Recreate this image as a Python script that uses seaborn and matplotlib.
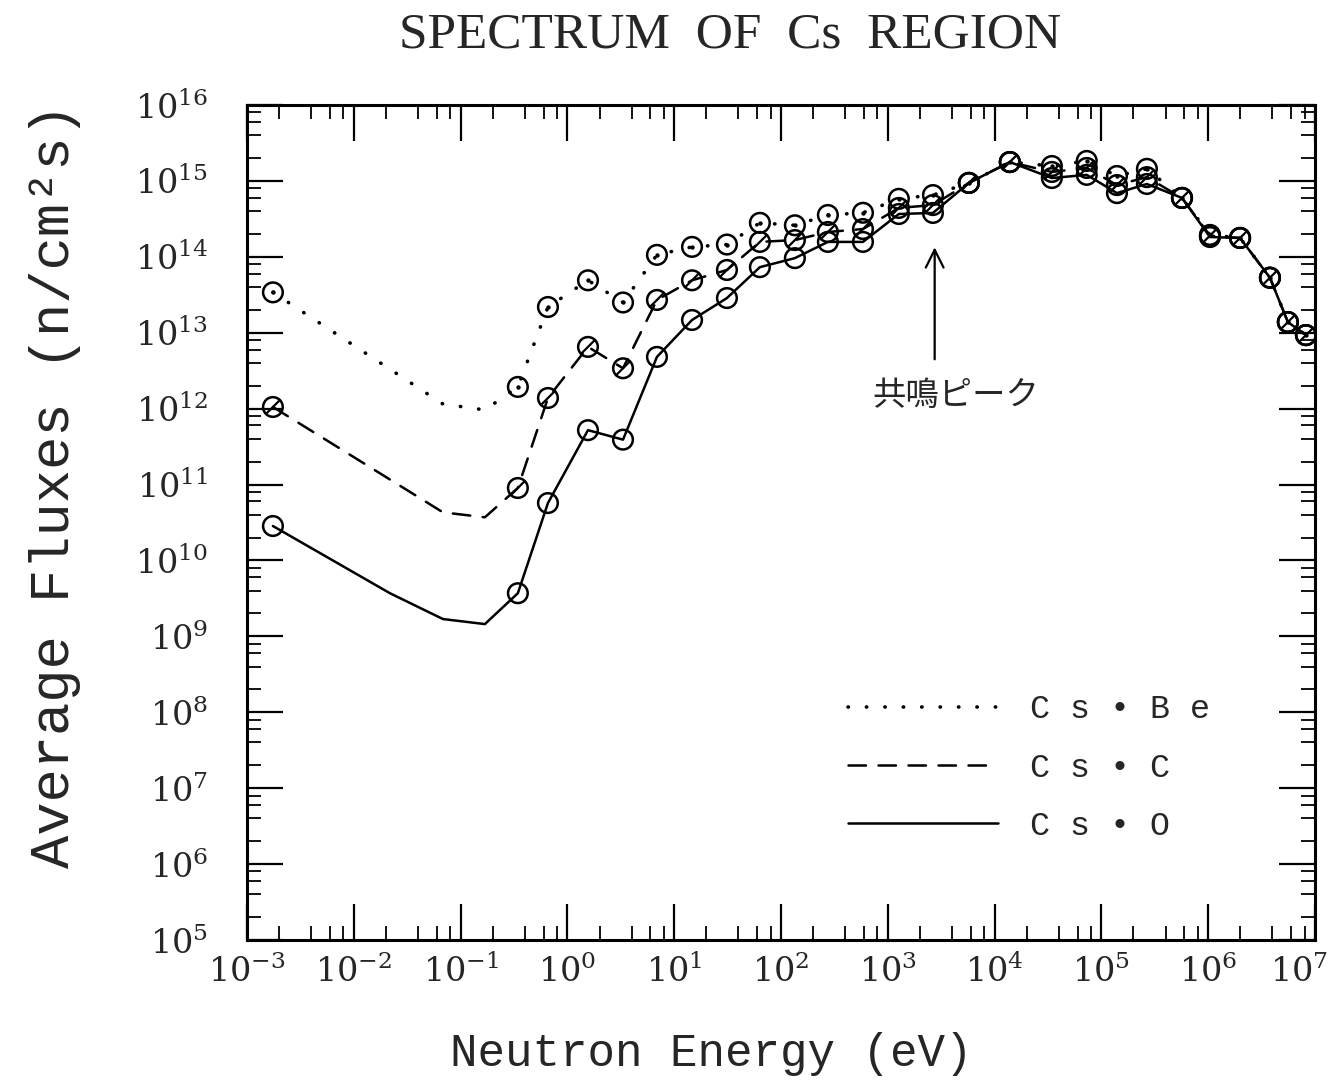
import numpy as np
import pandas as pd
import matplotlib
matplotlib.use("Agg")
import matplotlib.pyplot as plt
import matplotlib.ticker as mticker
import matplotlib.transforms as mtransforms
from matplotlib.path import Path
from matplotlib.lines import Line2D
import seaborn as sns

# ---------------- data ----------------
# energies (eV) where markers are drawn
energy_pts = [1.75e-3, 0.344, 0.658, 1.56, 3.32, 6.9, 14.7, 31.2, 63.5, 135, 275, 586,
              1270, 2650, 5750, 1.39e4, 3.44e4, 7.3e4, 1.40e5, 2.67e5, 5.69e5,
              1.04e6, 1.99e6, 3.79e6, 5.58e6, 8.24e6]

flux_be = [3.4e13, 1.93e12, 2.18e13, 4.9e13, 2.5e13, 1.06e14, 1.35e14, 1.45e14, 2.8e14,
           2.6e14, 3.55e14, 3.8e14, 5.8e14, 6.5e14, 9.4e14, 1.77e15, 1.57e15, 1.83e15,
           1.16e15, 1.44e15, 5.96e14, 1.94e14, 1.77e14, 5.3e13, 1.38e13, 9.3e12]
flux_c = [1.05e12, 9.0e10, 1.38e12, 6.5e12, 3.4e12, 2.7e13, 4.9e13, 6.7e13, 1.57e14,
          1.66e14, 2.12e14, 2.32e14, 4.4e14, 4.8e14, 9.4e14, 1.77e15, 1.31e15, 1.48e15,
          8.8e14, 1.12e15, 5.96e14, 1.9e14, 1.77e14, 5.3e13, 1.38e13, 9.3e12]
flux_o = [2.84e10, 3.7e9, 5.7e10, 5.2e11, 3.9e11, 4.8e12, 1.47e13, 2.86e13, 7.3e13,
          9.6e13, 1.57e14, 1.57e14, 3.66e14, 3.78e14, 9.4e14, 1.77e15, 1.09e15, 1.2e15,
          6.9e14, 9.1e14, 5.96e14, 1.82e14, 1.77e14, 5.3e13, 1.38e13, 9.3e12]

# additional curve nodes in the thermal region (no markers)
thermal_e_be = [0.0684, 0.169]
thermal_f_be = [1.15e12, 9.6e11]
thermal_e_c = [0.0684, 0.169]
thermal_f_c = [4.3e10, 3.7e10]
thermal_e_o = [0.0218, 0.0684, 0.169]
thermal_f_o = [3.7e9, 1.69e9, 1.45e9]

x_ticks = [1e-3, 1e-2, 1e-1, 1e0, 1e1, 1e2, 1e3, 1e4, 1e5, 1e6, 1e7]
y_ticks = [1e5, 1e6, 1e7, 1e8, 1e9, 1e10, 1e11, 1e12, 1e13, 1e14, 1e15, 1e16]

labels = ["C s • B e", "C s • C", "C s • O"]
title = "SPECTRUM  OF  Cs  REGION"
xlabel = "Neutron Energy (eV)"
ylabel = "Average Fluxes (n/cm²s)"
annot_text = "共鳴ピーク"
annot_x = 2750
annot_tip, annot_tail = 1.45e14, 4.1e12
annot_text_x, annot_text_y = 4300, 1.5e12


def curve(e_th, f_th, fl):
    e = [energy_pts[0]] + e_th + energy_pts[1:]
    f = [fl[0]] + f_th + fl[1:]
    return pd.DataFrame({"E": e, "F": f})


# ---------------- style ----------------
sns.set_style("ticks")
plt.rcParams["font.family"] = ["DejaVu Serif"]
plt.rcParams["mathtext.fontset"] = "dejavuserif"

fig = plt.figure(figsize=(13.4, 10.91), dpi=100)
ax = fig.add_axes([0.1843, 0.1384, 0.7970, 0.7654])

styles = [(0, (0.1, 5.0)), (0, (7, 5)), "-"]
widths = [2.6, 1.8, 1.8]
series = [(thermal_e_be, thermal_f_be, flux_be),
          (thermal_e_c, thermal_f_c, flux_c),
          (thermal_e_o, thermal_f_o, flux_o)]

for (e_th, f_th, fl), ls, lw in zip(series, styles, widths):
    df = curve(e_th, f_th, fl)
    sns.lineplot(data=df, x="E", y="F", ax=ax, color="black", sort=False,
                 estimator=None, linewidth=lw, legend=False)
    line = ax.lines[-1]
    line.set_linestyle(ls)
    line.set_dash_capstyle("round")

# markers
msize = 200
slash = Path([(-0.75, -0.75), (0.75, 0.75)], [Path.MOVETO, Path.LINETO])
pts = pd.DataFrame({"E": energy_pts, "Be": flux_be, "C": flux_c, "O": flux_o})
for col in ["Be", "C", "O"]:
    sns.scatterplot(data=pts, x="E", y=col, ax=ax, marker="o", s=msize,
                    facecolor="none", edgecolor="black", linewidth=1.8,
                    legend=False, zorder=4)
sns.scatterplot(data=pts, x="E", y="Be", ax=ax, marker="o", s=10,
                color="black", linewidth=0, legend=False, zorder=5)
sns.scatterplot(data=pts, x="E", y="C", ax=ax, marker=slash, s=120,
                facecolor="none", edgecolor="black", linewidth=1.6,
                legend=False, zorder=5)

ax.set_xscale("log")
ax.set_yscale("log")
ax.set_xlabel("")
ax.set_ylabel("")

ax.xaxis.set_major_locator(mticker.FixedLocator(x_ticks))
ax.yaxis.set_major_locator(mticker.FixedLocator(y_ticks))
ax.xaxis.set_minor_locator(mticker.LogLocator(base=10, subs=[2, 4, 6, 8], numticks=20))
ax.yaxis.set_minor_locator(mticker.LogLocator(base=10, subs=[2, 4, 6, 8], numticks=20))
ax.xaxis.set_minor_formatter(mticker.NullFormatter())
ax.yaxis.set_minor_formatter(mticker.NullFormatter())
ax.xaxis.set_major_formatter(mticker.LogFormatterMathtext())
ax.yaxis.set_major_formatter(mticker.LogFormatterMathtext())
ax.set_xlim(1e-3, 1e7)
ax.set_ylim(1e5, 1e16)

ax.tick_params(which="both", direction="in", top=True, right=True, color="black")
ax.tick_params(which="major", length=26, width=1.6, labelsize=24)
ax.tick_params(axis="x", which="major", pad=11)
ax.tick_params(axis="y", which="major", pad=28)
ax.tick_params(which="minor", length=10, width=1.3)
for sp in ax.spines.values():
    sp.set_linewidth(2.2)
    sp.set_color("black")
    sp.set_visible(True)

# keep the last x tick label inside the figure (as in the reference)
fig.canvas.draw()
last = ax.xaxis.get_major_ticks()[len(x_ticks) - 1].label1
last.set_transform(last.get_transform() +
                   mtransforms.ScaledTranslation(-16 / 100, 0, fig.dpi_scale_trans))

# annotation
ax.annotate("", xy=(annot_x, annot_tip), xytext=(annot_x, annot_tail),
            arrowprops=dict(arrowstyle="->", lw=1.6, color="black", mutation_scale=32))
ax.text(annot_text_x, annot_text_y, annot_text, ha="center", va="center",
        fontsize=24, family=["Noto Sans CJK JP", "DejaVu Sans"])

# legend
handles = [Line2D([], [], color="black", linestyle=s, linewidth=w, dash_capstyle="round")
           for s, w in zip(styles, widths)]
ax.legend(handles, labels, loc="upper left", bbox_to_anchor=(0.535, 0.33),
          frameon=False, handlelength=4.5, handletextpad=0.95, labelspacing=0.82,
          prop={"family": "Liberation Mono", "size": 24})

fig.text(0.545, 0.968, title, ha="center", va="center", fontsize=37,
         family="Liberation Serif")
fig.text(0.531, 0.034, xlabel, ha="center", va="center", fontsize=33,
         family="Liberation Mono")
fig.text(0.041, 0.555, ylabel, ha="center", va="center", fontsize=40,
         family="Liberation Mono", rotation=90)

fig.savefig("out.png", dpi=100)
